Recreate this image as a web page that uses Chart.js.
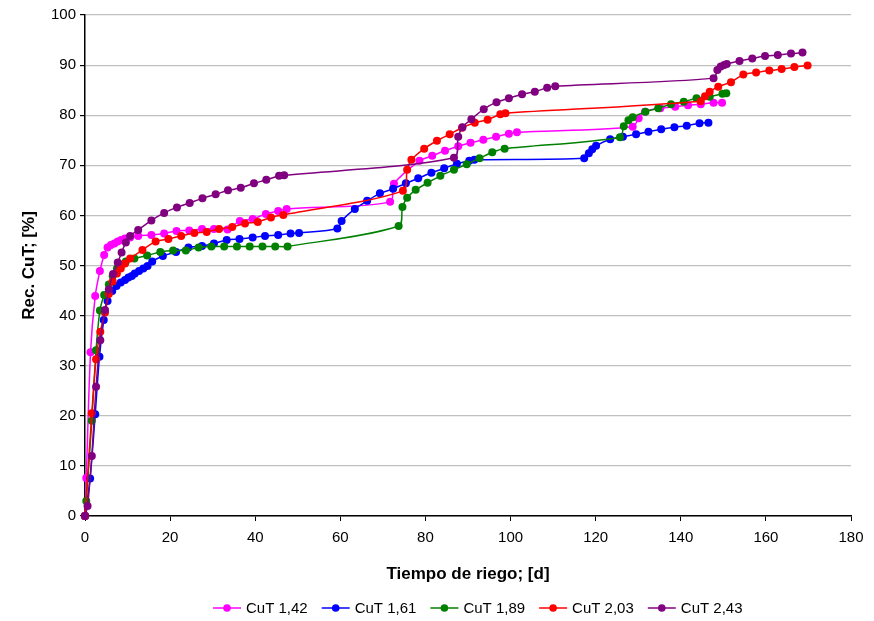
<!DOCTYPE html>
<html>
<head>
<meta charset="utf-8">
<script src="https://cdn.jsdelivr.net/npm/chart.js@4.4.1/dist/chart.umd.min.js"></script>
<style>
  html, body { margin: 0; padding: 0; background: #fff; }
  #wrap { width: 874px; height: 621px; position: relative; }
</style>
</head>
<body>
<div id="wrap"><canvas id="c" width="874" height="621"></canvas></div>
<script>
// ---- Data (days, recovery %) ----
const seriesNames = ["CuT 1,42", "CuT 1,61", "CuT 1,89", "CuT 2,03", "CuT 2,43"];
const seriesColors = ["#FF00FF", "#0000FF", "#008000", "#FF0000", "#800080"];

const cut142Days = [0,0.3,1.3,2.4,3.5,4.5,5.3,6.1,6.9,7.7,8.5,9.4,10.6,12.5,15.6,18.6,21.5,24.5,27.5,30.3,33.5,36.4,39.4,42.5,45.4,47.4,71.7,72.6,78.6,81.6,84.6,87.7,90.6,93.6,96.6,99.6,101.5,128.7,130.1,131.6,135.2,138.7,141.7,144.7,147.7,149.7];
const cut142Rec  = [0,7.6,32.7,43.9,48.9,52.1,53.6,54.1,54.4,54.8,55.1,55.4,55.6,55.9,56.1,56.4,56.9,57.0,57.3,57.3,57.2,58.9,59.3,60.3,60.9,61.3,62.7,66.3,70.9,71.9,72.9,73.8,74.5,75.1,75.7,76.3,76.6,77.7,79.4,80.7,81.4,81.7,82.0,82.2,82.5,82.5];

const cut161Days = [0,1.2,2.4,3.4,4.4,5.3,6.4,7.4,8.4,9.4,10.2,11.0,11.7,12.7,13.7,14.7,15.8,18.3,21.4,24.3,27.5,30.3,33.3,36.3,39.4,42.3,45.4,48.3,50.3,59.3,60.3,63.4,66.3,69.3,72.4,75.4,78.3,81.4,84.4,87.4,90.3,91.5,117.3,118.4,119.2,120.1,123.4,126.4,129.5,132.4,135.4,138.5,141.4,144.4,146.5];
const cut161Rec  = [0,7.5,20.3,31.8,39.1,42.9,44.9,45.9,46.6,47.1,47.6,47.9,48.4,48.9,49.4,49.9,50.8,51.9,52.7,53.6,53.9,54.4,55.1,55.3,55.6,55.9,56.1,56.4,56.5,57.4,58.9,61.3,62.9,64.4,65.3,66.4,67.4,68.5,69.4,70.3,70.9,71.1,71.4,72.4,73.2,73.9,75.2,75.7,76.2,76.7,77.2,77.6,77.9,78.4,78.5];

const cut189Days = [0,0.3,1.6,2.6,3.5,4.5,5.6,6.5,7.5,8.6,9.6,11.6,14.6,17.7,20.7,23.7,26.7,29.7,32.7,35.7,38.7,41.7,44.7,47.6,73.7,74.6,75.7,77.7,80.5,83.5,86.7,89.7,92.7,95.7,98.6,125.7,126.6,127.7,128.7,131.7,134.7,137.7,140.7,143.7,146.8,149.8,150.7];
const cut189Rec  = [0,3.0,19.0,33.1,41.0,44.1,46.2,47.9,49.4,50.2,50.8,51.4,52.0,52.7,53.0,53.0,53.6,53.8,53.8,53.8,53.8,53.8,53.8,53.8,57.9,61.7,63.5,65.1,66.5,67.9,69.1,70.2,71.4,72.6,73.3,75.6,77.8,79.0,79.6,80.7,81.4,82.2,82.7,83.4,83.7,84.3,84.4];

const cut203Days = [0,1.6,2.6,3.6,4.7,5.6,6.5,7.5,8.4,9.4,10.6,13.5,16.6,19.6,22.6,25.7,28.6,31.5,34.6,37.6,40.6,43.7,46.6,74.7,75.7,76.7,79.7,82.7,85.7,88.6,91.6,94.6,97.6,98.8,144.7,145.7,146.8,148.8,151.8,154.7,157.7,160.8,163.7,166.7,169.8];
const cut203Rec  = [0,20.5,31.3,36.8,40.6,44.3,46.8,48.4,49.4,50.4,51.4,53.1,54.8,55.3,55.9,56.5,56.7,57.3,57.7,58.4,58.7,59.6,60.1,64.9,69.1,71.1,73.3,74.9,76.2,77.5,78.5,79.1,80.2,80.4,82.8,83.8,84.7,85.7,86.6,88.1,88.5,88.9,89.2,89.6,89.9];

const cut243Days = [0,0.6,1.6,2.6,3.6,4.7,5.6,6.6,7.7,8.6,9.6,10.6,12.5,15.6,18.6,21.6,24.6,27.6,30.7,33.6,36.6,39.7,42.6,45.6,46.8,86.7,87.7,88.7,90.8,93.7,96.7,99.6,102.7,105.7,108.6,110.5,147.7,148.6,149.4,150.2,150.8,153.8,156.8,159.8,162.8,165.9,168.6];
const cut243Rec  = [0,2.0,12.0,25.8,35.1,41.1,45.2,48.3,50.6,52.6,54.6,55.9,57.1,59.0,60.5,61.6,62.5,63.4,64.2,65.0,65.5,66.4,67.1,67.9,68.0,71.5,75.7,77.6,79.2,81.2,82.6,83.4,84.2,84.7,85.5,85.8,87.4,89.0,89.7,90.0,90.2,90.8,91.3,91.8,92.0,92.3,92.5];

const xTitle = "Tiempo de riego; [d]";
const yTitle = "Rec. CuT; [%]";

const allDays = [cut142Days, cut161Days, cut189Days, cut203Days, cut243Days];
const allRec  = [cut142Rec, cut161Rec, cut189Rec, cut203Rec, cut243Rec];

const FONT = "'Liberation Sans', Arial, sans-serif";

const datasets = seriesNames.map((name, i) => ({
  label: name,
  data: allDays[i].map((d, k) => ({ x: d, y: allRec[i][k] })),
  borderColor: seriesColors[i],
  backgroundColor: seriesColors[i],
  pointBackgroundColor: seriesColors[i],
  pointBorderColor: seriesColors[i],
  pointBorderWidth: 0,
  pointRadius: 4,
  borderWidth: 1.5,
  tension: 0.3,
  fill: false,
  clip: 6,
  order: 5 - i
}));

// custom legend: line + dot + text
const legendPlugin = {
  id: 'xlLegend',
  afterDraw(chart) {
    const ctx = chart.ctx;
    ctx.save();
    ctx.font = "15px " + FONT;
    const lineW = 28, gapAfterLine = 5, gapItem = 14;
    const widths = seriesNames.map(n => ctx.measureText(n).width);
    let x = 213;
    const y = 608;
    seriesNames.forEach((n, i) => {
      ctx.strokeStyle = seriesColors[i];
      ctx.lineWidth = 1.5;
      ctx.beginPath(); ctx.moveTo(x, y); ctx.lineTo(x + lineW, y); ctx.stroke();
      ctx.fillStyle = seriesColors[i];
      ctx.beginPath(); ctx.arc(x + lineW / 2, y, 3.8, 0, Math.PI * 2); ctx.fill();
      ctx.fillStyle = "#000";
      ctx.textBaseline = "middle";
      ctx.textAlign = "left";
      ctx.fillText(n, x + lineW + gapAfterLine, y + 1);
      x += lineW + gapAfterLine + widths[i] + gapItem;
    });
    ctx.restore();
  }
};

new Chart(document.getElementById('c'), {
  type: 'line',
  data: { datasets },
  plugins: [legendPlugin],
  options: {
    responsive: false,
    animation: false,
    layout: { padding: { left: 0, right: 23, top: 15, bottom: 35 } },
    plugins: { legend: { display: false }, tooltip: { enabled: false } },
    scales: {
      x: {
        type: 'linear', min: 0, max: 180,
        ticks: { stepSize: 20, color: '#000', font: { family: FONT, size: 15 }, padding: 8, maxRotation: 0 },
        grid: { drawOnChartArea: false, drawTicks: true, tickLength: 5, color: '#000' },
        border: { color: '#000', width: 1.5 },
        title: { display: true, text: xTitle, color: '#000', font: { family: FONT, size: 17, weight: 'bold' }, padding: { top: 0, bottom: 1 } },
        afterFit(s) { s.height = 70; }
      },
      y: {
        type: 'linear', min: 0, max: 100,
        ticks: { stepSize: 10, color: '#000', font: { family: FONT, size: 15 }, padding: 4 },
        grid: { color: '#c0c0c0', lineWidth: 1.2, drawTicks: true, tickLength: 5, tickColor: '#000' },
        border: { color: '#000', width: 1.5 },
        title: { display: true, text: yTitle, color: '#000', font: { family: FONT, size: 17, weight: 'bold' }, padding: { top: 19, bottom: 0 } },
        afterFit(s) { s.width = 85; }
      }
    }
  }
});
</script>
</body>
</html>
